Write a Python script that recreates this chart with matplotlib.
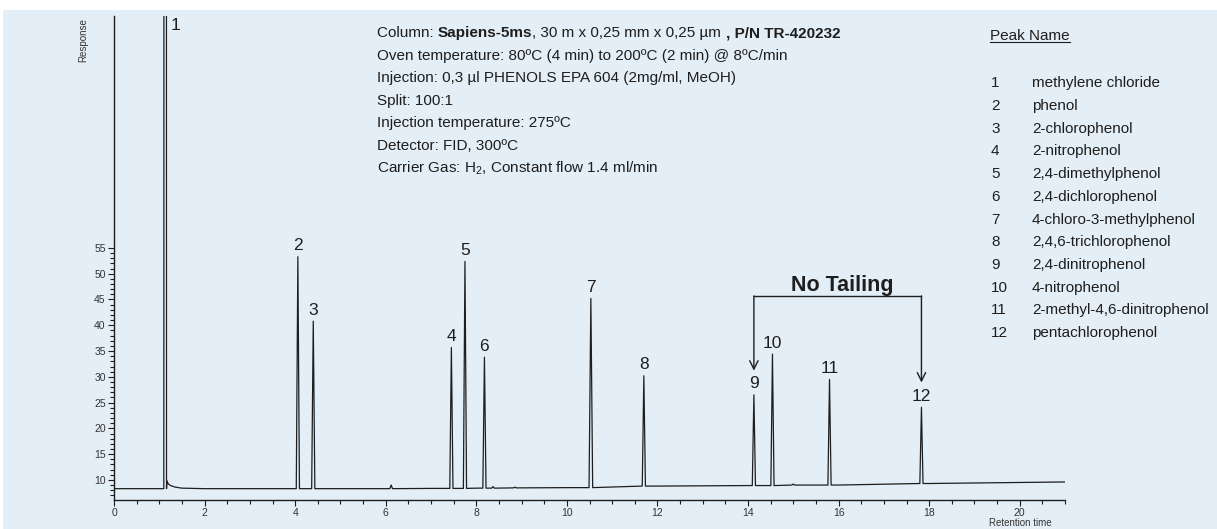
import matplotlib
matplotlib.use('Agg')
import numpy as np
import matplotlib.pyplot as plt
from matplotlib.patches import Rectangle
from matplotlib.lines import Line2D

# peaks (retention time, apex response, baseline under peak)
peak_rt = [1.13, 4.06, 4.40, 7.45, 7.75, 8.18, 10.53, 11.70, 14.13, 14.54, 15.80, 17.83]
peak_top = [1500, 53.3, 40.8, 35.7, 52.4, 33.8, 45.2, 30.2, 26.5, 34.4, 29.5, 24.1]
peak_base = [8.3, 8.3, 8.3, 8.35, 8.35, 8.4, 8.5, 8.8, 8.9, 8.9, 9.0, 9.3]
peak_hw = [0.03, 0.035, 0.035, 0.035, 0.035, 0.035, 0.04, 0.035, 0.035, 0.035, 0.035, 0.035]
peak_labels = ['1', '2', '3', '4', '5', '6', '7', '8', '9', '10', '11', '12']

# small bumps that are not labelled
bump_rt = [6.12, 8.37, 8.85, 15.0]
bump_top = [9.0, 8.7, 8.6, 9.2]
bump_base = [8.3, 8.4, 8.45, 9.0]

# baseline (with solvent tail after peak 1)
base_x = [0.0, 1.17, 1.2, 1.25, 1.35, 1.5, 2.0, 4.0, 6.0, 7.0, 8.0, 10.0, 12.0, 14.0, 16.0, 18.0, 21.0]
base_y = [8.3, 9.8, 9.2, 8.9, 8.6, 8.4, 8.3, 8.3, 8.3, 8.35, 8.4, 8.5, 8.8, 8.9, 9.0, 9.3, 9.6]

peak_names = ['methylene chloride', 'phenol', '2-chlorophenol', '2-nitrophenol',
              '2,4-dimethylphenol', '2,4-dichlorophenol', '4-chloro-3-methylphenol',
              '2,4,6-trichlorophenol', '2,4-dinitrophenol', '4-nitrophenol',
              '2-methyl-4,6-dinitrophenol', 'pentachlorophenol']

column_parts = [('Column: ', 'normal'), ('Sapiens-5ms', 'bold'),
                (', 30 m x 0,25 mm x 0,25 µm ', 'normal'), (', P/N TR-420232', 'bold')]
info_lines = ['Oven temperature: 80ºC (4 min) to 200ºC (2 min) @ 8ºC/min',
              'Injection: 0,3 µl PHENOLS EPA 604 (2mg/ml, MeOH)',
              'Split: 100:1',
              'Injection temperature: 275ºC',
              'Detector: FID, 300ºC',
              'Carrier Gas: H$_2$, Constant flow 1.4 ml/min']

plain = ['Liberation Sans', 'DejaVu Sans']
plt.rcParams['font.family'] = plain
plt.rcParams['mathtext.fontset'] = 'custom'
plt.rcParams['mathtext.rm'] = 'Liberation Sans'

ink = '#1e1e1e'
bg = '#e3eef6'
W, H = 1217, 529
fig = plt.figure(figsize=(W / 100, H / 100), dpi=100)
fig.patch.set_facecolor('white')
fig.add_artist(Rectangle((3 / W, 0), 1, 1 - 10 / H, transform=fig.transFigure,
                         facecolor=bg, edgecolor='none', zorder=-10))

ax = fig.add_axes([114 / W, 29 / H, (1065 - 114) / W, (513 - 29) / H])
ax.patch.set_alpha(0)

# trace: baseline points + triangular peaks
pts = list(zip(base_x, base_y))
for rt, top, b, hw in zip(peak_rt, peak_top, peak_base, peak_hw):
    pts += [(rt - hw, b), (rt, top), (rt + hw, b)]
for rt, top, b in zip(bump_rt, bump_top, bump_base):
    pts += [(rt - 0.03, b), (rt, top), (rt + 0.03, b)]
pts.sort()
tx = [p[0] for p in pts]
ty = [p[1] for p in pts]
ax.plot(tx, ty, color=ink, lw=0.9)

ax.set_xlim(0, 21)
ax.set_ylim(6.1, 100)
for s in ['top', 'right']:
    ax.spines[s].set_visible(False)
for s in ['left', 'bottom']:
    ax.spines[s].set_linewidth(1.0)
    ax.spines[s].set_color(ink)

ax.set_xticks(np.arange(0, 21, 2))
ax.set_xticks(np.arange(0, 21.01, 0.5), minor=True)
ax.set_yticks(np.arange(10, 56, 5))
ax.set_yticks(np.arange(7, 56, 1), minor=True)
ax.tick_params(which='both', direction='out', color=ink, width=0.8, labelsize=7.5,
               labelcolor='#333333')
ax.tick_params(which='major', length=4, pad=2)
ax.tick_params(which='minor', length=3)

# peak labels
lfs = 12.5
for i, (rt, top, lab) in enumerate(zip(peak_rt, peak_top, peak_labels)):
    if i == 0:
        ax.text(rt + 0.22, 98.2, lab, ha='center', va='center', fontsize=lfs, color=ink)
    else:
        ax.text(rt, top + 0.7, lab, ha='center', va='bottom', fontsize=lfs, color=ink)

# No Tailing bracket
ax.plot([peak_rt[8], peak_rt[11]], [45.7, 45.7], color=ink, lw=1)
for rt, tip in [(peak_rt[8], 31.2), (peak_rt[11], 28.9)]:
    ax.annotate('', xy=(rt, tip), xytext=(rt, 45.7),
                arrowprops=dict(arrowstyle='->,head_length=0.6,head_width=0.3',
                                color=ink, lw=1, shrinkA=0, shrinkB=0))
ax.text(16.09, 46.7, 'No Tailing', ha='center', va='baseline', fontsize=15.5,
        fontweight='bold', color=ink)

# axis captions
fig.text(83 / W, 1 - 40 / H, 'Response', rotation=90, ha='center', va='center',
         fontsize=7, color='#333333')
fig.text(1020 / W, 1 - 523 / H, 'Retention time', ha='center', va='center',
         fontsize=7, color='#333333')

# info text block
fs = 11
x0 = 377 / W
y0 = 33.3
dy = 22.5
last = None
for txt, wt in column_parts:
    if last is None:
        last = fig.text(x0, 1 - y0 / H, txt, ha='left', va='center', fontsize=fs,
                        fontweight=wt, color=ink)
    else:
        last = ax.annotate(txt, xy=(1, 0.5), xycoords=last, ha='left', va='center',
                           fontsize=fs, fontweight=wt, color=ink, annotation_clip=False)

for i, line in enumerate(info_lines):
    fig.text(x0, 1 - (y0 + (i + 1) * dy) / H, line, ha='left', va='center',
             fontsize=fs, color=ink)

# peak name table
hdr = fig.text(990 / W, 1 - 36 / H, 'Peak Name', ha='left', va='center', fontsize=fs,
               color=ink)
for i, (lab, name) in enumerate(zip(peak_labels, peak_names)):
    yy = 1 - (83.3 + i * 22.7) / H
    fig.text(991 / W, yy, lab, ha='left', va='center', fontsize=fs, color=ink)
    fig.text(1032 / W, yy, name, ha='left', va='center', fontsize=fs, color=ink)

fig.canvas.draw()
bb = hdr.get_window_extent().transformed(fig.transFigure.inverted())
fig.add_artist(Line2D([bb.x0, bb.x1], [bb.y0 + 1.5 / H, bb.y0 + 1.5 / H],
                      transform=fig.transFigure, color=ink, lw=0.8))

fig.savefig('out.png', dpi=100, facecolor=fig.get_facecolor())
